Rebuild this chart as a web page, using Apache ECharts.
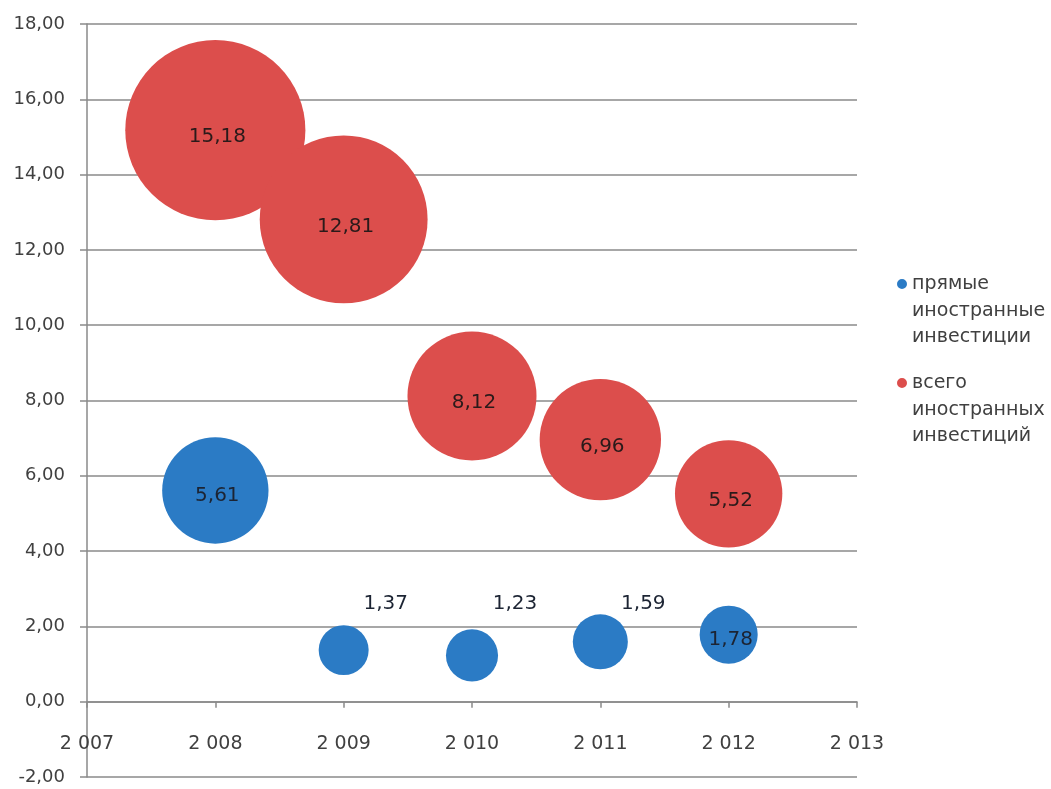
<!DOCTYPE html>
<html>
<head>
<meta charset="utf-8">
<script src="https://cdn.jsdelivr.net/npm/echarts@6/dist/echarts.min.js"></script>
<style>html,body{margin:0;padding:0;background:#fff;}#c{width:1051px;height:789px;}</style>
</head>
<body>
<div id="c"></div>
<script>
// ---- data ----
const years = [2008, 2009, 2010, 2011, 2012];
const seriesNames = ['прямые\nиностранные\nинвестиции', 'всего\nиностранных\nинвестиций'];
const directValues = [5.61, 1.37, 1.23, 1.59, 1.78];
const totalValues = [15.18, 12.81, 8.12, 6.96, 5.52];
// estimated bubble sizes (area-proportional)
const directSizes = [5.3, 1.17, 1.27, 1.42, 1.58];
const totalSizes = [15.2, 13.2, 7.8, 6.9, 5.4];
const yTicks = [-2, 0, 2, 4, 6, 8, 10, 12, 14, 16, 18];
const xTicks = [2007, 2008, 2009, 2010, 2011, 2012, 2013];

// ---- styling ----
const FONT = 'DejaVu Sans';
const BLUE = '#2b7bc5';
const RED = '#dc4e4c';
const K = 46.2; // px per sqrt(size unit)
// label offsets for the blue points (pixels)
const directLabelOffsets = [[2, 5], [42, -46], [43, -52], [43, -38], [2, 5]];

const fmtComma = v => v.toFixed(2).replace('.', ',');
const fmtYear = v => { const s = String(v); return s.slice(0, 1) + ' ' + s.slice(1); };

function makeData(vals, sizes, offsets) {
  return years.map((yr, i) => {
    const d = { value: [yr, vals[i], sizes[i]] };
    if (offsets) d.label = { offset: offsets[i] };
    return d;
  });
}

const legendIcon = 'path://M5,8 A5,5 0 1,1 5,18 A5,5 0 1,1 5,8 Z M0,0 L0.01,0 L0.01,0.01 Z M0,80 L0.01,80 L0.01,80.01 Z';

const chart = echarts.init(document.getElementById('c'), null, { renderer: 'canvas' });
chart.setOption({
  animation: false,
  textStyle: { fontFamily: FONT },
  grid: { left: 87, right: 194, top: 24, bottom: 12, containLabel: false, outerBoundsMode: 'none' },
  legend: {
    orient: 'vertical',
    left: 892,
    top: 266,
    itemWidth: 10,
    itemHeight: 80,
    itemGap: 19,
    data: [
      { name: seriesNames[0], icon: legendIcon },
      { name: seriesNames[1], icon: legendIcon }
    ],
    textStyle: { fontFamily: FONT, fontSize: 19, color: '#404040', lineHeight: 26.5 }
  },
  xAxis: {
    type: 'value',
    min: xTicks[0],
    max: xTicks[xTicks.length - 1],
    interval: 1,
    axisLine: { show: true, onZero: true, lineStyle: { color: '#8a8a8a', width: 1.5 } },
    axisTick: { show: true, length: 6, lineStyle: { color: '#8a8a8a', width: 1.5 } },
    axisLabel: { formatter: fmtYear, fontFamily: FONT, fontSize: 19, color: '#404040', margin: -42 },
    splitLine: { show: false }
  },
  yAxis: {
    type: 'value',
    min: yTicks[0],
    max: yTicks[yTicks.length - 1],
    interval: 2,
    axisLine: { show: true, lineStyle: { color: '#8a8a8a', width: 1.5 } },
    axisTick: { show: true, length: 7, lineStyle: { color: '#8a8a8a', width: 1.5 } },
    axisLabel: { formatter: fmtComma, fontFamily: FONT, fontSize: 18, color: '#404040', margin: 22 },
    splitLine: { show: true, lineStyle: { color: '#8a8a8a', width: 1.5 } }
  },
  series: [
    {
      name: seriesNames[0],
      type: 'scatter',
      symbol: 'circle',
      symbolSize: v => K * Math.sqrt(v[2]),
      itemStyle: { color: BLUE, opacity: 1 },
      label: {
        show: true, position: 'inside',
        formatter: p => fmtComma(p.value[1]),
        fontFamily: FONT, fontSize: 20, color: '#1c2433'
      },
      data: makeData(directValues, directSizes, directLabelOffsets),
      z: 3
    },
    {
      name: seriesNames[1],
      type: 'scatter',
      symbol: 'circle',
      symbolSize: v => K * Math.sqrt(v[2]),
      itemStyle: { color: RED, opacity: 1 },
      label: {
        show: true, position: 'inside', offset: [2, 7],
        formatter: p => fmtComma(p.value[1]),
        fontFamily: FONT, fontSize: 20, color: '#2a1a1a'
      },
      data: makeData(totalValues, totalSizes, null),
      z: 2
    }
  ]
});
</script>
</body>
</html>
